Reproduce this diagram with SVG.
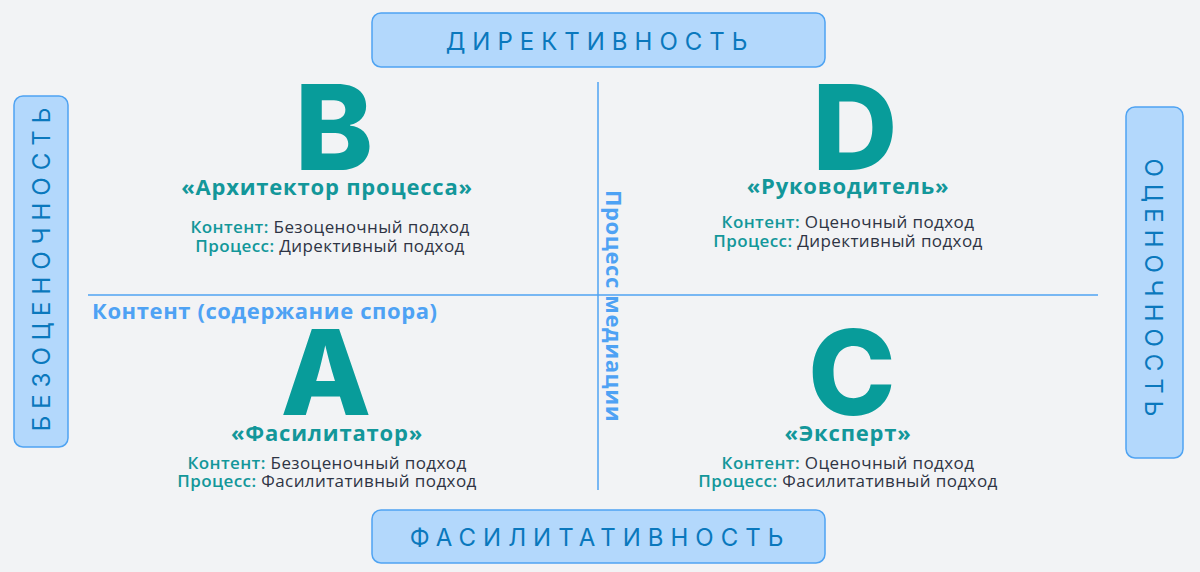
<svg xmlns="http://www.w3.org/2000/svg" width="1200" height="572" viewBox="0 0 1200 572">
<style>
.bg{fill:#f2f3f5}
.box{fill:#b3d8fc;stroke:#4fa3f2;stroke-width:1.5}
.axis{font-family:Inter,"Liberation Sans",sans-serif;font-size:24px;fill:#0a78bd;letter-spacing:7px;text-anchor:middle}
.big{font-family:Inter,"Liberation Sans",sans-serif;font-size:118px;font-weight:800;fill:#089c9a;text-anchor:middle}
.role{font-family:"Open Sans","Liberation Sans",sans-serif;font-size:22px;font-weight:700;fill:#13979a;text-anchor:middle;letter-spacing:0.8px}
.desc{font-family:"Open Sans","Liberation Sans",sans-serif;font-size:17px;fill:#2e3444;text-anchor:middle;letter-spacing:0.4px}
.k{fill:#13979a;font-weight:600}
.line{stroke:#4fa3f2;stroke-width:1.5;fill:none}
.lbl{font-family:"Open Sans","Liberation Sans",sans-serif;font-size:22px;font-weight:700;fill:#4ea2f4;letter-spacing:0.6px}
</style>
<rect class="bg" x="0" y="0" width="1200" height="572"/>
<g id="connectors">
<line class="line" x1="598" y1="82" x2="598" y2="490"/>
<line class="line" x1="88" y1="295" x2="1098" y2="295"/>
</g>
<g id="axis-top"><rect class="box" x="372" y="13" width="453" height="54" rx="9"/><text class="axis" x="600" y="50">ДИРЕКТИВНОСТЬ</text></g>
<g id="axis-bottom"><rect class="box" x="372" y="510" width="453" height="53" rx="9"/><text class="axis" x="600" y="546">ФАСИЛИТАТИВНОСТЬ</text></g>
<g id="axis-left"><rect class="box" x="14" y="96" width="54" height="351" rx="9"/><text class="axis" transform="translate(50,269) rotate(-90)" x="3" y="0">БЕЗОЦЕНОЧНОСТЬ</text></g>
<g id="axis-right"><rect class="box" x="1126" y="107" width="57" height="351" rx="9"/><text class="axis" transform="translate(1145,288) rotate(90)" x="3" y="0">ОЦЕНОЧНОСТЬ</text></g>
<g id="label-process"><text class="lbl" transform="translate(606,190) rotate(90)" x="0" y="0">Процесс медиации</text></g>
<g id="label-content"><text class="lbl" x="92" y="319">Контент (содержание спора)</text></g>
<g id="quad-B">
<text class="big" x="334" y="170">B</text>
<text class="role" x="327" y="195">«Архитектор процесса»</text>
<text class="desc" x="330" y="233"><tspan class="k">Контент:</tspan> Безоценочный подход</text>
<text class="desc" x="330" y="252"><tspan class="k">Процесс:</tspan> Директивный подход</text>
</g>
<g id="quad-D">
<text class="big" x="855" y="170">D</text>
<text class="role" x="848" y="194">«Руководитель»</text>
<text class="desc" x="848" y="228"><tspan class="k">Контент:</tspan> Оценочный подход</text>
<text class="desc" x="848" y="247"><tspan class="k">Процесс:</tspan> Директивный подход</text>
</g>
<g id="quad-A">
<text class="big" x="326" y="415">A</text>
<text class="role" x="327" y="441">«Фасилитатор»</text>
<text class="desc" x="327" y="469"><tspan class="k">Контент:</tspan> Безоценочный подход</text>
<text class="desc" x="327" y="487"><tspan class="k">Процесс:</tspan> Фасилитативный подход</text>
</g>
<g id="quad-C">
<text class="big" x="852" y="415">C</text>
<text class="role" x="848" y="441">«Эксперт»</text>
<text class="desc" x="848" y="469"><tspan class="k">Контент:</tspan> Оценочный подход</text>
<text class="desc" x="848" y="487"><tspan class="k">Процесс:</tspan> Фасилитативный подход</text>
</g>
</svg>
